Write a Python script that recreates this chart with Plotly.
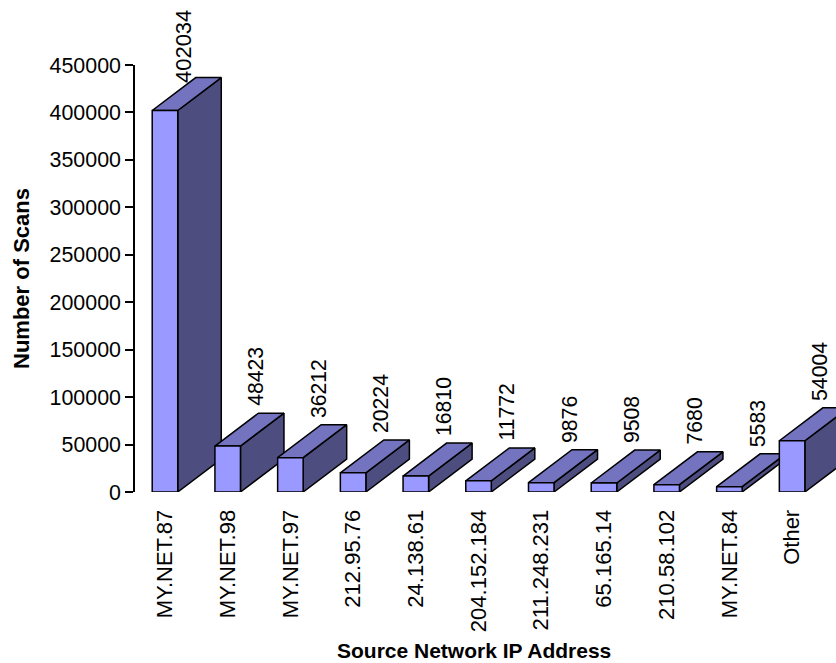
import plotly.graph_objects as go

categories = ["MY.NET.87", "MY.NET.98", "MY.NET.97", "212.95.76", "24.138.61", "204.152.184",
              "211.248.231", "65.165.14", "210.58.102", "MY.NET.84", "Other"]
scans = [402034, 48423, 36212, 20224, 16810, 11772, 9876, 9508, 7680, 5583, 54004]
y_ticks = [0, 50000, 100000, 150000, 200000, 250000, 300000, 350000, 400000, 450000]

W, H = 836, 663
L, R, T, B = 135, 0, 65, 171
X_RANGE = [-0.478, 10.70]
Y_RANGE = [0, 450000]
BAR_W = 0.407
DX = 0.694
DY = 34700
FRONT, TOP, SIDE = "#9999FF", "#7373BF", "#4D4D80"
FONT = "Liberation Sans, Arial, sans-serif"
TICK_SIZE = 21.4
ROT_SIZE = 22
LABEL_SIZE = 21.2
XTITLE_SIZE = 21
YTITLE_SIZE = 22
LW = 1.5


def face(xs, ys, color):
    return go.Scatter(x=xs + xs[:1], y=ys + ys[:1], mode="lines", fill="toself", fillcolor=color,
                      line=dict(color="#000000", width=LW), hoverinfo="skip", showlegend=False)


fig = go.Figure()
annotations = []
for i, v in enumerate(scans):
    x0, x1 = i - BAR_W / 2, i + BAR_W / 2
    fig.add_trace(face([x1, x1 + DX, x1 + DX, x1], [0, DY, v + DY, v], SIDE))
    fig.add_trace(face([x0, x1, x1 + DX, x0 + DX], [v, v, v + DY, v + DY], TOP))
    fig.add_trace(face([x0, x1, x1, x0], [0, 0, v, v], FRONT))
    first = i == 0
    annotations.append(dict(x=i, y=v + DY, xref="x", yref="y", text=str(v), textangle=-90,
                            showarrow=False, xanchor="center", yanchor="bottom",
                            xshift=18 if first else 27.5, yshift=-7 if first else 5,
                            font=dict(family=FONT, size=ROT_SIZE if first else LABEL_SIZE, color="#000000")))
annotations.append(dict(x=(474 - L) / (W - L - R), y=0, xref="paper", yref="paper", yshift=-158,
                        text="<b>Source Network IP Address</b>", showarrow=False,
                        xanchor="center", yanchor="middle", font=dict(family=FONT, size=XTITLE_SIZE, color="#000000")))

fig.update_layout(
    width=W, height=H, margin=dict(l=L, r=R, t=T, b=B, autoexpand=False),
    paper_bgcolor="#FFFFFF", plot_bgcolor="#FFFFFF", showlegend=False,
    font=dict(family=FONT, color="#000000", size=TICK_SIZE),
    annotations=annotations,
    xaxis=dict(range=X_RANGE, tickmode="array", tickvals=list(range(len(categories))), ticktext=categories,
               tickangle=-90, showgrid=False, zeroline=False, showline=False, ticks="outside", ticklen=8,
               tickcolor="rgba(0,0,0,0)", tickfont=dict(family=FONT, size=ROT_SIZE)),
    yaxis=dict(range=Y_RANGE, tickmode="array", tickvals=y_ticks, ticktext=[str(t) for t in y_ticks],
               showgrid=False, zeroline=False, showline=True, linecolor="#000000", linewidth=LW,
               ticks="outside", ticklen=8, tickcolor="#000000", tickwidth=LW,
               tickfont=dict(family=FONT, size=TICK_SIZE),
               title=dict(text="<b>Number of Scans</b>", font=dict(family=FONT, size=YTITLE_SIZE), standoff=14)),
)
fig.write_html("out.html", post_script="document.body.style.margin='0';", config=dict(displayModeBar=False))
